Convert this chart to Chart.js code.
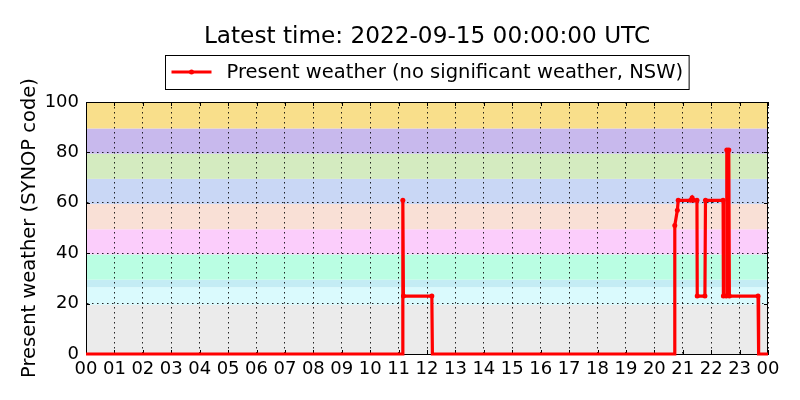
<!DOCTYPE html>
<html>
<head>
<meta charset="utf-8">
<script src="https://cdn.jsdelivr.net/npm/chart.js@4"></script>
<style>
  html, body { margin: 0; padding: 0; background: #fff; }
  #wrap { width: 800px; height: 400px; }
</style>
</head>
<body>
<div id="wrap"><canvas id="myChart" width="800" height="400"></canvas></div>
<script>
// series: present weather code (SYNOP) over the day, hours since 00 UTC
var times = [0, 11.13, 11.15, 11.17, 12.17, 12.19, 20.71, 20.72, 20.81, 20.84, 21.28, 21.33, 21.38, 21.50, 21.51, 21.78, 21.80, 22.42, 22.43, 22.53, 22.55, 22.62, 22.64, 23.65, 23.67, 24];
var codes = [0, 0, 61, 23, 23, 0, 0, 51, 57, 61, 61, 62, 61, 61, 23, 23, 61, 61, 23, 23, 81, 81, 23, 23, 0, 0];

var xTickLabels = ['00', '01', '02', '03', '04', '05', '06', '07', '08', '09', '10', '11',
                   '12', '13', '14', '15', '16', '17', '18', '19', '20', '21', '22', '23', '00'];
var yTicks = [0, 20, 40, 60, 80, 100];

// background bands of SYNOP code groups
var bandLow  = [0, 19.5, 26.5, 29.5, 39.5, 49.5, 59.5, 69.5, 79.5, 89.5];
var bandHigh = [19.5, 26.5, 29.5, 39.5, 49.5, 59.5, 69.5, 79.5, 89.5, 100];
var bandColors = ['#ebebeb', '#dafafd', '#c4ecf4', '#bafee3', '#fbcdfb',
                  '#f9e0d6', '#c9d7f5', '#d4ebc0', '#c8b9ed', '#f9df8b'];

var titleText = 'Latest time: 2022-09-15 00:00:00 UTC';
var seriesLabel = 'Present weather (no significant weather, NSW)';

var points = times.map(function (t, i) { return { x: t, y: codes[i] }; });

var bandsPlugin = {
    id: 'bands',
    beforeDraw: function (chart) {
        var ctx = chart.ctx, a = chart.chartArea, y = chart.scales.y;
        ctx.save();
        for (var i = 0; i < bandLow.length; i++) {
            var top = y.getPixelForValue(bandHigh[i]);
            var bot = y.getPixelForValue(bandLow[i]);
            ctx.fillStyle = bandColors[i];
            ctx.fillRect(a.left, top, a.right - a.left, bot - top);
        }
        ctx.restore();
    },
    beforeDatasetsDraw: function (chart) {
        var ctx = chart.ctx, a = chart.chartArea;
        var xs = chart.scales.x, ys = chart.scales.y;
        ctx.save();
        ctx.strokeStyle = '#000';
        ctx.lineWidth = 1;
        ctx.strokeRect(Math.round(a.left) + 0.5, Math.round(a.top) + 0.5,
                       Math.round(a.right - a.left) - 1, Math.round(a.bottom - a.top));
        // inward tick marks
        ctx.beginPath();
        xs.ticks.forEach(function (t) {
            var px = Math.round(xs.getPixelForValue(t.value)) + 0.5;
            ctx.moveTo(px, a.bottom); ctx.lineTo(px, a.bottom - 4);
            ctx.moveTo(px, a.top); ctx.lineTo(px, a.top + 4);
        });
        ys.ticks.forEach(function (t) {
            var py = Math.round(ys.getPixelForValue(t.value)) + 0.5;
            ctx.moveTo(a.left, py); ctx.lineTo(a.left + 4, py);
            ctx.moveTo(a.right, py); ctx.lineTo(a.right - 4, py);
        });
        ctx.stroke();
        ctx.restore();
    },
    afterDraw: function (chart) {
        var ctx = chart.ctx, a = chart.chartArea;
        var cx = (a.left + a.right) / 2;
        ctx.save();
        // title
        ctx.fillStyle = '#000';
        ctx.font = '23.2px "DejaVu Sans"';
        ctx.textAlign = 'center';
        ctx.textBaseline = 'alphabetic';
        ctx.fillText(titleText, cx, 43);
        // legend
        ctx.font = '19.5px "DejaVu Sans"';
        var w = ctx.measureText(seriesLabel).width;
        var boxW = w + 67;
        var left = Math.round(cx - boxW / 2) + 0.5;
        ctx.fillStyle = '#fff';
        ctx.fillRect(left, 55.5, boxW, 34);
        ctx.strokeStyle = '#000';
        ctx.lineWidth = 1;
        ctx.strokeRect(left, 55.5, boxW, 34);
        ctx.strokeStyle = '#ff0000';
        ctx.lineWidth = 3;
        ctx.beginPath();
        ctx.moveTo(left + 6, 72);
        ctx.lineTo(left + 46, 72);
        ctx.stroke();
        ctx.fillStyle = '#ff0000';
        ctx.beginPath();
        ctx.arc(left + 26, 72, 2.5, 0, Math.PI * 2);
        ctx.fill();
        ctx.fillStyle = '#000';
        ctx.textAlign = 'left';
        ctx.textBaseline = 'middle';
        ctx.fillText(seriesLabel, left + 61, 72.5);
        ctx.restore();
    }
};

var ctx = document.getElementById('myChart').getContext('2d');
var chart = new Chart(ctx, {
    type: 'line',
    data: {
        datasets: [{
            label: seriesLabel,
            data: points,
            borderColor: '#ff0000',
            backgroundColor: '#ff0000',
            borderWidth: 3.2,
            pointRadius: function (c) { return c.raw && c.raw.y === 0 ? 0 : 2.5; },
            pointBorderWidth: 0,
            tension: 0,
            clip: false
        }]
    },
    options: {
        responsive: false,
        animation: false,
        layout: { padding: { top: 102, right: 32, left: 0, bottom: 0 } },
        plugins: {
            legend: { display: false },
            title: { display: false },
            tooltip: { enabled: false }
        },
        scales: {
            x: {
                type: 'linear',
                min: 0,
                max: 24,
                afterFit: function (s) { s.height = 46; },
                afterBuildTicks: function (s) {
                    s.ticks = xTickLabels.map(function (l, i) { return { value: i }; });
                },
                ticks: {
                    autoSkip: false,
                    maxRotation: 0,
                    padding: 5,
                    color: '#000',
                    font: { family: 'DejaVu Sans', size: 18 },
                    callback: function (v) { return xTickLabels[v]; }
                },
                grid: { color: 'rgba(0,0,0,0.85)', lineWidth: 1, drawTicks: false },
                border: { display: true, color: '#000', dash: [1.5, 3.5] }
            },
            y: {
                min: 0,
                max: 100,
                afterFit: function (s) { s.width = 86; },
                afterBuildTicks: function (s) {
                    s.ticks = yTicks.map(function (v) { return { value: v }; });
                },
                ticks: {
                    padding: 7,
                    color: '#000',
                    font: { family: 'DejaVu Sans', size: 18 }
                },
                grid: { color: 'rgba(0,0,0,0.85)', lineWidth: 1, drawTicks: false },
                border: { display: true, color: '#000', dash: [1.5, 3.5] },
                title: {
                    display: true,
                    text: 'Present weather (SYNOP code)',
                    color: '#000',
                    font: { family: 'DejaVu Sans', size: 19.5 },
                    padding: { top: 18, bottom: 0 }
                }
            }
        }
    },
    plugins: [bandsPlugin]
});
</script>
</body>
</html>
